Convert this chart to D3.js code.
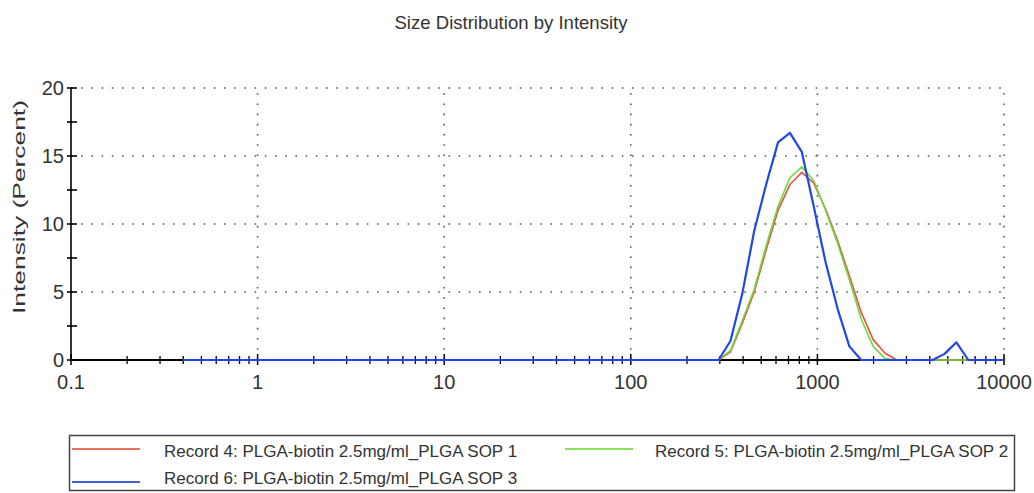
<!DOCTYPE html>
<html>
<head>
<meta charset="utf-8">
<title>Size Distribution by Intensity</title>
<script src="https://d3js.org/d3.v7.min.js"></script>
<style>
  body { margin: 0; background: #fff; }
  svg text { font-family: "Liberation Sans", Arial, sans-serif; fill: #333; }
  .grid { stroke: #555; stroke-width: 1.6; stroke-dasharray: 1.6 8.6; }
</style>
</head>
<body>
<div id="grafico"></div>
<script>
// size classes (d.nm) of the instrument, 70 bins from 0.4 to 10000
var sizes = [0.4, 0.4632, 0.5365, 0.6213, 0.7195, 0.8332, 0.9649, 1.117, 1.294, 1.499,
  1.736, 2.010, 2.328, 2.696, 3.122, 3.615, 4.187, 4.849, 5.615, 6.503,
  7.531, 8.721, 10.10, 11.70, 13.54, 15.69, 18.17, 21.04, 24.36, 28.21,
  32.67, 37.84, 43.82, 50.75, 58.77, 68.06, 78.82, 91.28, 105.7, 122.4,
  141.8, 164.2, 190.1, 220.2, 255.0, 295.3, 342.0, 396.1, 458.7, 531.2,
  615.1, 712.4, 825.0, 955.4, 1106, 1281, 1484, 1718, 1990, 2305,
  2669, 3091, 3580, 4145, 4801, 5560, 6439, 7456, 8635, 10000];

var zeros45 = [0,0,0,0,0,0,0,0,0,0, 0,0,0,0,0,0,0,0,0,0, 0,0,0,0,0,0,0,0,0,0,
  0,0,0,0,0,0,0,0,0,0, 0,0,0,0,0];

// Record 4 (SOP 1)
var record4 = zeros45.concat([0, 0.6, 2.7, 5.0, 8.1, 11.0, 12.9, 13.8, 13.0, 11.1,
  8.8, 6.2, 3.5, 1.5, 0.5, 0, 0, 0, 0, 0, 0, 0, 0, 0, 0]);
// Record 5 (SOP 2)
var record5 = zeros45.concat([0, 0.7, 2.9, 5.2, 8.4, 11.3, 13.4, 14.2, 13.2, 11.0,
  8.6, 5.9, 3.0, 1.0, 0.1, 0, 0, 0, 0, 0, 0, 0, 0, 0, 0]);
// Record 6 (SOP 3)
var record6 = zeros45.concat([0, 1.4, 4.9, 9.5, 12.9, 16.0, 16.7, 15.3, 11.3, 7.2,
  3.8, 1.0, 0, 0, 0, 0, 0, 0, 0, 0.45, 1.3, 0, 0, 0, 0]);

var xTicks = [0.1, 1, 10, 100, 1000, 10000];
var xTickLabels = ["0.1", "1", "10", "100", "1000", "10000"];
var yTicks = [0, 5, 10, 15, 20];
var yMinor = [2.5, 7.5, 12.5, 17.5];

var series = [
  {nome: "Record 4: PLGA-biotin 2.5mg/ml_PLGA SOP 1", valores: record4, cor: "#e5533f", corLeg: "#e8735e"},
  {nome: "Record 5: PLGA-biotin 2.5mg/ml_PLGA SOP 2", valores: record5, cor: "#6fd93f", corLeg: "#8fe060"},
  {nome: "Record 6: PLGA-biotin 2.5mg/ml_PLGA SOP 3", valores: record6, cor: "#2346e6", corLeg: "#3b5fdc"}
];

var larguraSVG = 1034, alturaSVG = 493;
var margin = {top: 88, right: 30, bottom: 133, left: 71};

var x = d3.scaleLog().domain([0.1, 10000]).range([margin.left, larguraSVG - margin.right]);
var y = d3.scaleLinear().domain([0, 20]).range([alturaSVG - margin.bottom, margin.top]);

var svg = d3.select("#grafico").append("svg")
  .attr("width", larguraSVG).attr("height", alturaSVG);

// title
svg.append("text")
  .attr("x", 511).attr("y", 29)
  .attr("text-anchor", "middle")
  .attr("font-size", 18.5)
  .attr("textLength", 233).attr("lengthAdjust", "spacingAndGlyphs")
  .text("Size Distribution by Intensity");

// dotted grid
svg.append("g").selectAll("line")
  .data(yTicks.filter(d => d > 0))
  .enter().append("line")
  .attr("class", "grid")
  .attr("x1", x(0.1)).attr("x2", x(10000))
  .attr("y1", d => y(d)).attr("y2", d => y(d));

svg.append("g").selectAll("line")
  .data(xTicks.filter(d => d > 0.1))
  .enter().append("line")
  .attr("class", "grid")
  .attr("x1", d => x(d)).attr("x2", d => x(d))
  .attr("y1", y(0)).attr("y2", y(20));

// x axis
var minors = [];
[0.1, 1, 10, 100, 1000].forEach(function(dec) {
  for (var k = 2; k <= 9; k++) minors.push(dec * k);
});

svg.append("line")
  .attr("x1", x(0.1)).attr("x2", x(10000))
  .attr("y1", y(0)).attr("y2", y(0))
  .attr("stroke", "#000").attr("stroke-width", 2.2);

svg.append("g").selectAll("line")
  .data(minors)
  .enter().append("line")
  .attr("x1", d => x(d)).attr("x2", d => x(d))
  .attr("y1", y(0) - 4).attr("y2", y(0) + 4)
  .attr("stroke", "#000").attr("stroke-width", 1.3);

svg.append("g").selectAll("line")
  .data(xTicks)
  .enter().append("line")
  .attr("x1", d => x(d)).attr("x2", d => x(d))
  .attr("y1", y(0) - 6).attr("y2", y(0) + 5)
  .attr("stroke", "#000").attr("stroke-width", 1.5);

svg.append("g").selectAll("text")
  .data(xTicks)
  .enter().append("text")
  .attr("x", d => x(d)).attr("y", 389)
  .attr("text-anchor", "middle")
  .attr("font-size", 20)
  .text((d, i) => xTickLabels[i]);

// y axis
svg.append("line")
  .attr("x1", x(0.1)).attr("x2", x(0.1))
  .attr("y1", y(0)).attr("y2", y(20))
  .attr("stroke", "#000").attr("stroke-width", 1.6);

svg.append("g").selectAll("line")
  .data(yTicks.concat(yMinor))
  .enter().append("line")
  .attr("x1", x(0.1) - 4).attr("x2", x(0.1) + 6)
  .attr("y1", d => y(d)).attr("y2", d => y(d))
  .attr("stroke", "#000").attr("stroke-width", 1.6);

svg.append("g").selectAll("text")
  .data(yTicks)
  .enter().append("text")
  .attr("x", 64).attr("y", d => y(d)).attr("dy", "0.36em")
  .attr("text-anchor", "end")
  .attr("font-size", 20)
  .text(d => d);

svg.append("text")
  .attr("transform", "translate(25,207) rotate(-90)")
  .attr("text-anchor", "middle")
  .attr("font-size", 17)
  .attr("textLength", 214).attr("lengthAdjust", "spacingAndGlyphs")
  .text("Intensity (Percent)");

// curves
var linha = d3.line()
  .x((d, i) => x(sizes[i]))
  .y(d => y(d));

series.forEach(function(s) {
  svg.append("path")
    .datum(s.valores)
    .attr("d", linha)
    .attr("fill", "none")
    .attr("stroke", s.cor)
    .attr("stroke-width", s === series[2] ? 2.2 : 1.6)
    .attr("stroke-linejoin", "round");
});

// legend
svg.append("rect")
  .attr("x", 69.5).attr("y", 435.5).attr("width", 945).attr("height", 55)
  .attr("fill", "#fff").attr("stroke", "#444").attr("stroke-width", 1.5);

var legPos = [[72, 449, 457], [565, 449, 457], [72, 482, 484]];
series.forEach(function(s, i) {
  var p = legPos[i];
  svg.append("line")
    .attr("x1", p[0]).attr("x2", p[0] + 68)
    .attr("y1", p[1]).attr("y2", p[1])
    .attr("stroke", s.corLeg).attr("stroke-width", 1.8);
  svg.append("text")
    .attr("x", p[0] + (i === 1 ? 90 : 92)).attr("y", p[2])
    .attr("font-size", 17)
    .text(s.nome);
});
</script>
</body>
</html>
